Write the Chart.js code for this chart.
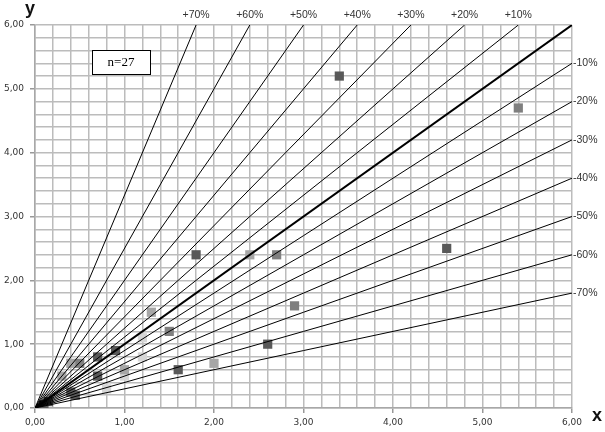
<!DOCTYPE html>
<html><head><meta charset="utf-8">
<script src="https://cdn.jsdelivr.net/npm/chart.js@4.4.1/dist/chart.umd.min.js"></script>
<style>html,body{margin:0;padding:0;background:#fff}#wrap{width:605px;height:432px}</style>
</head><body><div id="wrap"><canvas id="c" width="605" height="432"></canvas></div>
<script>
// axis limits
const xMin = 0, xMax = 6, yMin = 0, yMax = 6;
const gridStep = 0.2;
// reference lines (percent deviation)
const posPercents = [70, 60, 50, 40, 30, 20, 10];
const negPercents = [-10, -20, -30, -40, -50, -60, -70];
const sampleSize = 'n=27';
// data points by shade
const darkX = [3.4, 4.6, 1.8, 2.6, 1.6, 0.9, 0.7, 0.7, 0.4, 0.45, 0.1, 0.15];
const darkY = [5.2, 2.5, 2.4, 1.0, 0.6, 0.9, 0.8, 0.5, 0.25, 0.2, 0.05, 0.1];
const medX = [5.4, 2.7, 2.9, 1.5, 0.5];
const medY = [4.7, 2.4, 1.6, 1.2, 0.7];
const lightX = [2.4, 2.0, 1.3, 1.0, 0.4, 0.3];
const lightY = [2.4, 0.7, 1.5, 0.6, 0.7, 0.5];
const vlightX = [1.2, 1.2, 1.0, 0.8];
const vlightY = [1.1, 0.8, 0.5, 0.3];

const zip = (xs, ys) => xs.map((x, i) => ({x, y: ys[i]}));
const slopeOf = p => p > 0 ? 1 / (1 - p / 100) : 1 + p / 100;
const endOf = m => m > 1 ? {x: yMax / m, y: yMax} : {x: xMax, y: xMax * m};

const lineDatasets = [];
posPercents.concat([0], negPercents).forEach(p => {
  const m = slopeOf(p);
  lineDatasets.push({
    type: 'line', label: (p > 0 ? '+' : '') + p + '%',
    data: [{x: 0, y: 0}, endOf(m)],
    borderColor: '#000', borderWidth: p === 0 ? 2 : 1,
    pointRadius: 0, fill: false, order: 0, tension: 0
  });
});
const pt = (data, color) => ({
  type: 'scatter', data, backgroundColor: color, borderColor: color,
  pointStyle: 'rect', pointRadius: 6.5, borderWidth: 0, order: 1
});

const isInt = v => Math.abs(v - Math.round(v)) < 1e-6;
const fmt = v => Number(v).toFixed(2).replace('.', ',');

const labelsPlugin = {
  id: 'labelsPlugin',
  afterDatasetsDraw(chart) {
    const ctx = chart.ctx, xs = chart.scales.x, ys = chart.scales.y;
    ctx.save();
    ctx.fillStyle = '#333';
    ctx.font = '10.5px "Liberation Sans"';
    ctx.textAlign = 'center'; ctx.textBaseline = 'middle';
    posPercents.forEach(p => {
      const e = endOf(slopeOf(p));
      ctx.fillText('+' + p + '%', xs.getPixelForValue(e.x), 15);
    });
    ctx.textAlign = 'left';
    negPercents.forEach(p => {
      const e = endOf(slopeOf(p));
      ctx.fillText(p + '%', xs.right + 1, ys.getPixelForValue(e.y));
    });
    // axis titles
    ctx.fillStyle = '#111';
    ctx.font = 'bold 18px "Liberation Sans"';
    ctx.textAlign = 'center'; ctx.textBaseline = 'alphabetic';
    ctx.fillText('y', 30, 14);
    ctx.fillText('x', 597, 421);
    // n box
    ctx.fillStyle = '#fff'; ctx.fillRect(92, 50, 58, 24);
    ctx.strokeStyle = '#000'; ctx.lineWidth = 1;
    ctx.strokeRect(92.5, 50.5, 58, 24);
    ctx.fillStyle = '#000'; ctx.font = '13px "Liberation Serif"';
    ctx.textBaseline = 'middle';
    ctx.fillText(sampleSize, 121, 63);
    ctx.restore();
  }
};

const axisCommon = {
  type: 'linear',
  ticks: {
    stepSize: gridStep, autoSkip: false, maxRotation: 0,
    color: '#333', font: {family: 'DejaVu Sans', size: 9},
    callback: v => isInt(v) ? fmt(v) : ''
  },
  grid: {
    color: '#bcbcbc', lineWidth: 1.5, tickLength: 5,
    tickColor: ctx => (ctx.tick && isInt(ctx.tick.value)) ? '#999' : 'rgba(0,0,0,0)'
  },
  border: {color: '#a8a8a8', width: 1.5}
};

new Chart(document.getElementById('c'), {
  data: {
    datasets: [
      ...lineDatasets,
      pt(zip(darkX, darkY), '#595959'),
      pt(zip(medX, medY), '#7f7f7f'),
      pt(zip(lightX, lightY), '#a6a6a6'),
      pt(zip(vlightX, vlightY), '#d6d6d6')
    ]
  },
  options: {
    responsive: false, animation: false, devicePixelRatio: 1,
    layout: {padding: {top: 25, right: 33, bottom: 0, left: 0}},
    plugins: {legend: {display: false}, tooltip: {enabled: false}},
    scales: {
      x: {...axisCommon, min: xMin, max: xMax,
          ticks: {...axisCommon.ticks, padding: 4},
          afterFit: s => { s.height = 24; }},
      y: {...axisCommon, min: yMin, max: yMax,
          ticks: {...axisCommon.ticks, padding: 6},
          afterFit: s => { s.width = 35; }}
    }
  },
  plugins: [labelsPlugin]
});
</script></body></html>
